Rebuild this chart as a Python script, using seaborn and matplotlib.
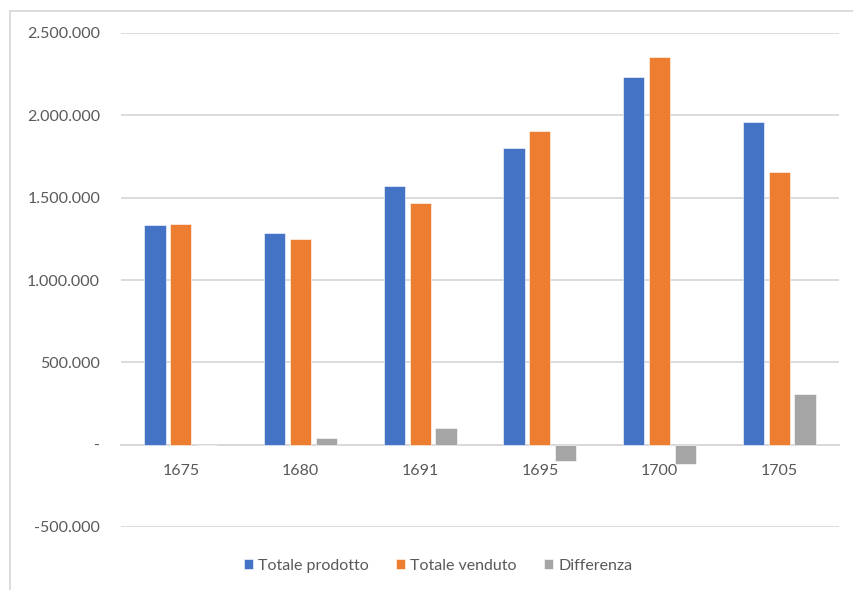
import matplotlib.pyplot as plt
import seaborn as sns
import pandas as pd
from matplotlib.lines import Line2D
from matplotlib.ticker import FuncFormatter

# Values
anni = ['1675', '1680', '1691', '1695', '1700', '1705']
totale_prodotto = [1337000, 1283000, 1570000, 1800000, 2235000, 1958000]
totale_venduto = [1343000, 1248000, 1467000, 1903000, 2353000, 1653000]
differenza = [-2000, 39000, 103000, -99000, -117000, 308000]

serie = ['Totale prodotto', 'Totale venduto', 'Differenza']
colori = ['#4472C4', '#ED7D31', '#A5A5A5']
testo = '#595959'
griglia = '#D9D9D9'

df = pd.DataFrame({
    'anno': anni * 3,
    'valore': totale_prodotto + totale_venduto + differenza,
    'serie': [s for s in serie for _ in anni],
})

sns.set_style('white')
plt.rcParams['font.family'] = ['Lato', 'DejaVu Sans']

fig = plt.figure(figsize=(8.54, 5.9), dpi=100)
ax = fig.add_axes([121 / 854, 1 - 527 / 590, (839 - 121) / 854, (527 - 33) / 590])

sns.barplot(
    data=df, x='anno', y='valore', hue='serie', order=anni, hue_order=serie,
    palette=colori, width=0.65, gap=0.18, saturation=1,
    edgecolor='white', linewidth=0.4, ax=ax
)

ax.set_ylim(-500000, 2500000)
ax.set_xlim(-0.5, len(anni) - 0.5)
ax.set_yticks(range(-500000, 2500001, 500000))


def formato(v, pos):
    if v == 0:
        return '-'
    return f'{int(v):,}'.replace(',', '.')


ax.yaxis.set_major_formatter(FuncFormatter(formato))
ax.yaxis.grid(True, color=griglia, linewidth=1.3)
ax.set_axisbelow(True)

for s in ['top', 'right', 'left']:
    ax.spines[s].set_visible(False)
ax.spines['bottom'].set_position(('data', 0))
ax.spines['bottom'].set_color(griglia)
ax.spines['bottom'].set_linewidth(1.3)
ax.spines['bottom'].set_zorder(0.5)

ax.tick_params(axis='y', length=0, pad=15, labelsize=11.5, labelcolor=testo)
ax.tick_params(axis='x', length=0, pad=14, labelsize=11.5, labelcolor=testo)
ax.set_xlabel('')
ax.set_ylabel('')

handles, labels = ax.get_legend_handles_labels()
ax.get_legend().remove()
fig.legend(
    handles, labels, loc='center', bbox_to_anchor=(438 / 854, 1 - 566 / 590),
    ncol=3, frameon=False, fontsize=11.5, labelcolor=testo,
    handlelength=0.6, handleheight=0.6, handletextpad=0.3, columnspacing=1.7
)

# chart area border (top and left only visible)
fig.add_artist(Line2D([10 / 854, 1], [1 - 11 / 590, 1 - 11 / 590], transform=fig.transFigure, color=griglia, linewidth=1.3))
fig.add_artist(Line2D([10 / 854, 10 / 854], [0, 1 - 11 / 590], transform=fig.transFigure, color=griglia, linewidth=1.3))

fig.savefig('out.png', dpi=100)
